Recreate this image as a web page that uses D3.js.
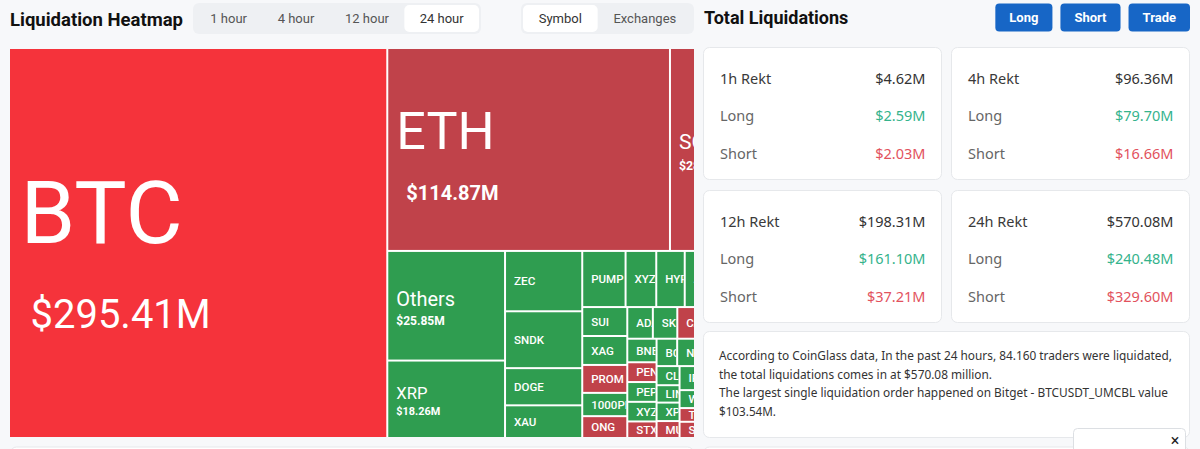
<!DOCTYPE html>
<html>
<head>
<meta charset="utf-8">
<script src="https://cdn.jsdelivr.net/npm/d3@7"></script>
<style>
  html, body { margin: 0; padding: 0; background: #f7f8fa; overflow: hidden; }
  svg { display: block; font-family: Roboto, "Noto Sans", sans-serif; }
</style>
</head>
<body>
<svg id="chart"></svg>
<script>
// 24h liquidations per symbol ($M), in the order the heatmap lays them out
const symbols = ["BTC", "ETH", "SOL", "Others", "XRP", "ZEC", "SNDK", "DOGE", "XAU", "PUMP",
  "XYZ100", "HYPE", "ASTER", "AVAX", "SUI", "XAG", "PROM", "1000PEPE", "ONG", "ADA",
  "SKY", "CAKE", "LTC", "ENA", "BNB", "PENGU", "PEPE", "XYZ-NVDA", "STX", "BCH",
  "NEAR", "WIF", "TRX", "CLO", "LINK", "XPL", "MU", "IP", "ETC", "ARB",
  "WLD", "TAO", "SEI", "OP", "APT", "FIL", "UNI", "TIA", "JUP"];
const amounts = [295.41, 114.87, 28.05, 25.85, 18.26, 9.33, 8.79, 5.75, 5.05, 4.87,
  3.45, 3.20, 3.10, 3.00, 2.61, 2.61, 2.52, 2.10, 1.97, 1.62,
  1.55, 1.40, 1.28, 1.23, 1.38, 1.16, 1.16, 1.15, 0.97, 1.13,
  1.00, 1.20, 1.19, 0.88, 0.80, 0.85, 0.78, 1.00, 0.95, 0.91,
  0.72, 0.55, 0.65, 0.74, 0.75, 0.70, 0.60, 0.47, 0.52];
// which side got liquidated most
const sides = ["short", "short", "short", "long", "long", "long", "long", "long", "long", "long",
  "long", "long", "long", "long", "long", "long", "short", "long", "short", "long",
  "long", "short", "long", "long", "long", "short", "long", "long", "short", "long",
  "long", "long", "long", "long", "long", "long", "short", "long", "long", "long",
  "long", "short", "short", "long", "long", "long", "long", "long", "long"];

const timeTabs = ["1 hour", "4 hour", "12 hour", "24 hour"];
const viewTabs = ["Symbol", "Exchanges"];
const actionButtons = ["Long", "Short", "Trade"];

const periods = ["1h", "4h", "12h", "24h"];
const rektTotal = [4.62, 96.36, 198.31, 570.08];
const rektLong = [2.59, 79.70, 161.10, 240.48];
const rektShort = [2.03, 16.66, 37.21, 329.60];

const tradersLiquidated = "84.160";
const biggestExchange = "Bitget";
const biggestPair = "BTCUSDT_UMCBL";
const biggestOrder = 103.54;

const W = 1200, H = 449;
const svg = d3.select("#chart").attr("width", W).attr("height", H);
const money = v => "$" + d3.format(".2f")(v) + "M";

svg.append("rect").attr("width", W).attr("height", H).attr("fill", "#f7f8fa");

// ---------- left header ----------
svg.append("text")
    .attr("x", 10).attr("y", 26)
    .attr("font-size", 18.5).attr("font-weight", 700).attr("fill", "#111")
    .text("Liquidation Heatmap");

function tabGroup(x0, x1, labels, active) {
    const g = svg.append("g");
    g.append("rect")
        .attr("x", x0).attr("y", 3).attr("width", x1 - x0).attr("height", 31)
        .attr("rx", 6).attr("fill", "#eef0f3");
    const texts = labels.map(label => g.append("text")
        .attr("y", 22.5).attr("font-size", 13)
        .attr("fill", label === active ? "#333" : "#555")
        .attr("text-anchor", "middle")
        .text(label));
    const widths = texts.map(t => t.node().getComputedTextLength());
    const pad = (x1 - x0 - 4 - d3.sum(widths)) / labels.length;
    let x = x0 + 2;
    labels.forEach((label, i) => {
        const w = widths[i] + pad;
        if (label === active) {
            g.insert("rect", "text")
                .attr("x", x).attr("y", 5).attr("width", w).attr("height", 27)
                .attr("rx", 5).attr("fill", "#fff");
        }
        texts[i].attr("x", x + w / 2);
        x += w;
    });
}
tabGroup(193, 481, timeTabs, "24 hour");
tabGroup(521, 694, viewTabs, "Symbol");

// ---------- treemap ----------
const tmX = 10, tmY = 49, tmW = 728, tmH = 388, tmVisible = 684;

const leaves = symbols.map((s, i) => ({ name: s, value: amounts[i], side: sides[i] }));
const root = d3.hierarchy({ children: leaves }).sum(d => d.value || 0);
d3.treemap().size([tmW, tmH]).paddingInner(2).tile(d3.treemapSquarify)(root);

const redTone = d3.scaleThreshold().domain([200]).range(["#c0424a", "#f5333b"]);
const fillOf = d => d.side === "long" ? "#2f9d50" : redTone(d.value);

const nameSize = d3.scaleLinear().domain([3, 5.1, 10.7, 17.2]).range([11.5, 20, 52, 88]).clamp(true);
const valueSize = d3.scaleLinear().domain([4, 10.7, 17.2]).range([10.5, 20, 40]).clamp(true);

svg.append("clipPath").attr("id", "tm-clip")
    .append("rect").attr("x", tmX).attr("y", tmY).attr("width", tmVisible).attr("height", tmH);

const tm = svg.append("g").attr("clip-path", "url(#tm-clip)");
tm.append("rect").attr("x", tmX).attr("y", tmY).attr("width", tmW).attr("height", tmH).attr("fill", "#fff");

const cells = tm.append("g").attr("transform", `translate(${tmX},${tmY})`)
    .selectAll("g").data(root.leaves()).join("g")
    .attr("transform", d => `translate(${d.x0},${d.y0})`);

cells.append("clipPath").attr("id", (d, i) => "cell-clip-" + i)
    .append("rect")
    .attr("width", d => d.x1 - d.x0)
    .attr("height", d => d.y1 - d.y0);

cells.append("rect")
    .attr("width", d => d.x1 - d.x0)
    .attr("height", d => d.y1 - d.y0)
    .attr("fill", d => fillOf(d.data));

const labels = cells.append("g").attr("clip-path", (d, i) => `url(#cell-clip-${i})`);

// cut a label after the last glyph that still starts inside the cell
function fitText(t, str, avail) {
    t.text(str);
    let n = str.length;
    while (n > 1) {
        t.text(str.slice(0, n - 1));
        if (t.node().getComputedTextLength() < avail) break;
        n--;
    }
    t.text(str.slice(0, n));
}

labels.each(function (d) {
    const g = d3.select(this);
    const r = Math.sqrt(d.data.value);
    const ns = nameSize(r);
    const withValue = r >= 4;
    const cw = d.x1 - d.x0;
    const cy = (d.y1 - d.y0) / 2;
    const lx = Math.max(8, ns * 0.12);
    // labels of cells hidden by the panel edge are not drawn
    const avail = Math.min(cw, tmVisible - d.x0) - lx;
    if (avail <= 0) return;
    const name = g.append("text")
        .attr("x", lx)
        .attr("y", withValue ? cy : cy + ns * 0.36)
        .attr("font-size", ns)
        .attr("font-weight", ns <= 14 ? 500 : 400)
        .attr("fill", "#fff");
    fitText(name, d.data.name, avail);
    if (withValue) {
        const vs = valueSize(r);
        const vx = lx + (vs > 15 ? 10 : 0);
        const val = g.append("text")
            .attr("x", vx)
            .attr("y", cy + ns * 0.97)
            .attr("font-size", vs)
            .attr("font-weight", vs > 30 ? 400 : 700)
            .attr("fill", "#fff");
        fitText(val, money(d.data.value), avail - (vx - lx));
    }
});

// panel below the heatmap
svg.append("rect").attr("x", 10.5).attr("y", 447).attr("width", 683).attr("height", 20)
    .attr("rx", 6).attr("fill", "#fff").attr("stroke", "#e6e8eb");

// ---------- right side ----------
svg.append("text")
    .attr("x", 704).attr("y", 24)
    .attr("font-size", 18).attr("font-weight", 700).attr("fill", "#111")
    .text("Total Liquidations");

let bx = 1190;
actionButtons.slice().reverse().forEach(label => {
    const g = svg.append("g");
    const t = g.append("text")
        .attr("y", 22).attr("font-size", 13).attr("font-weight", 700)
        .attr("fill", "#fff").attr("text-anchor", "middle")
        .text(label);
    const w = t.node().getComputedTextLength() + 28;
    g.insert("rect", "text")
        .attr("x", bx - w).attr("y", 3.5).attr("width", w).attr("height", 28)
        .attr("rx", 4).attr("fill", "#1766c6");
    t.attr("x", bx - w / 2);
    bx -= w + 8;
});

const cardX = [703.5, 951.5], cardY = [47.5, 190.5], cardW = 238, cardH = 132;
periods.forEach((p, i) => {
    const x = cardX[i % 2], y = cardY[Math.floor(i / 2)];
    const g = svg.append("g").attr("transform", `translate(${x},${y})`)
        .style("font-family", "'Noto Sans', sans-serif");
    g.append("rect").attr("width", cardW).attr("height", cardH)
        .attr("rx", 6).attr("fill", "#fff").attr("stroke", "#e6e8eb");
    const rows = [
        [p + " Rekt", rektTotal[i], "#3a3a3a", "#333"],
        ["Long", rektLong[i], "#666", "#35b38c"],
        ["Short", rektShort[i], "#666", "#e2525d"]
    ];
    rows.forEach(([label, v, lc, vc], j) => {
        const by = 36 + j * 37.5;
        g.append("text").attr("x", 16.5).attr("y", by)
            .attr("font-size", 14.5).attr("fill", lc).text(label);
        g.append("text").attr("x", 222).attr("y", by)
            .attr("text-anchor", "end")
            .attr("font-size", 14.5).attr("fill", vc).text(money(v));
    });
});

// summary box
const summary = svg.append("g").style("font-family", "'Noto Sans', sans-serif");
summary.append("rect").attr("x", 703.5).attr("y", 331.5).attr("width", 486).attr("height", 106)
    .attr("rx", 6).attr("fill", "#fff").attr("stroke", "#e6e8eb");
const summaryLines = [
    [`According to CoinGlass data, In the past 24 hours, ${tradersLiquidated} traders were liquidated,`, 453],
    [`the total liquidations comes in at $${d3.format(".2f")(rektTotal[3])} million.`, 273],
    [`The largest single liquidation order happened on ${biggestExchange} - ${biggestPair} value`, 449],
    [`$${d3.format(".2f")(biggestOrder)}M.`, 57]
];
summaryLines.forEach(([line, len], i) => {
    summary.append("text")
        .attr("x", 719).attr("y", 360 + i * 18.5)
        .attr("font-size", 12.5).attr("fill", "#333")
        .attr("textLength", len).attr("lengthAdjust", "spacingAndGlyphs")
        .text(line);
});

// panel below the right column
svg.append("rect").attr("x", 703.5).attr("y", 447).attr("width", 486).attr("height", 20)
    .attr("rx", 6).attr("fill", "#fff").attr("stroke", "#e6e8eb");

// small popup in the corner
const pop = svg.append("g");
pop.append("rect").attr("x", 1073.5).attr("y", 428.5).attr("width", 112).attr("height", 30)
    .attr("rx", 4).attr("fill", "#fff").attr("stroke", "#dcdfe3");
pop.append("text").attr("x", 1175).attr("y", 446)
    .attr("text-anchor", "middle").attr("font-size", 16).attr("fill", "#222")
    .text("×");
</script>
</body>
</html>
